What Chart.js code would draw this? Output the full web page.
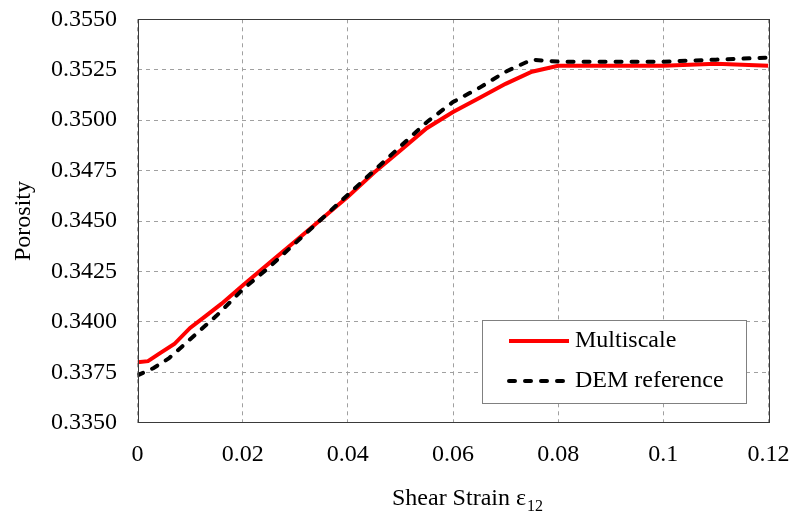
<!DOCTYPE html>
<html>
<head>
<meta charset="utf-8">
<script src="https://cdn.jsdelivr.net/npm/chart.js@4/dist/chart.umd.min.js"></script>
<style>
  html, body { margin: 0; padding: 0; background: #fff; }
  #wrap { width: 793px; height: 517px; }
</style>
</head>
<body>
<div id="wrap"><canvas id="chart" width="793" height="517"></canvas></div>
<script>
// porosity vs shear strain, two runs
const strainMulti   = [0, 0.002, 0.004, 0.007, 0.010, 0.013, 0.016, 0.020, 0.025, 0.030, 0.035, 0.040, 0.045, 0.050, 0.055, 0.060, 0.065, 0.070, 0.075, 0.080, 0.090, 0.100, 0.110, 0.120];
const porosityMulti = [0.3380, 0.33805, 0.3384, 0.3389, 0.3397, 0.3403, 0.3409, 0.3418, 0.3429, 0.3440, 0.3451, 0.3462, 0.3474, 0.3485, 0.3496, 0.3504, 0.3511, 0.3518, 0.3524, 0.3527, 0.3527, 0.3527, 0.3528, 0.3527];

const strainDem   = [0, 0.003, 0.006, 0.009, 0.012, 0.015, 0.020, 0.025, 0.030, 0.035, 0.040, 0.045, 0.050, 0.055, 0.060, 0.065, 0.070, 0.075, 0.080, 0.090, 0.100, 0.110, 0.120];
const porosityDem = [0.33735, 0.3377, 0.3382, 0.3389, 0.3396, 0.3403, 0.3416, 0.3427, 0.3439, 0.3451, 0.3463, 0.3475, 0.3487, 0.3499, 0.3509, 0.3516, 0.3524, 0.3530, 0.3529, 0.3529, 0.3529, 0.3530, 0.3531];

const xTicks = [0, 0.02, 0.04, 0.06, 0.08, 0.1, 0.12];
const yMin = 0.3350, yMax = 0.3550, yStep = 0.0025;

const serif = 'Liberation Serif';
const toPoints = (xs, ys) => xs.map((x, i) => ({ x, y: ys[i] }));

// frame around the plot, inset legend and subscripted x title
const decorations = {
  id: 'decorations',
  afterDatasetsDraw(chart) {
    const { ctx, chartArea: a } = chart;
    ctx.save();
    ctx.strokeStyle = '#3a3a3a';
    ctx.lineWidth = 1;
    ctx.strokeRect(Math.round(a.left) + 0.5, Math.round(a.top) + 0.5,
                   Math.round(a.right - a.left), Math.round(a.bottom - a.top));

    // legend box
    const bx = 482, by = 320, bw = 264, bh = 83;
    ctx.fillStyle = '#fff';
    ctx.fillRect(bx, by, bw, bh);
    ctx.strokeStyle = '#808080';
    ctx.strokeRect(bx + 0.5, by + 0.5, bw, bh);
    ctx.font = `24px "${serif}"`;
    ctx.textBaseline = 'middle';
    ctx.textAlign = 'left';
    chart.data.datasets.forEach((ds, i) => {
      const y = by + 21 + i * 40;
      ctx.beginPath();
      ctx.strokeStyle = ds.borderColor;
      ctx.lineWidth = ds.borderWidth;
      ctx.lineCap = ds.borderCapStyle || 'butt';
      ctx.setLineDash(ds.borderDash || []);
      ctx.moveTo(bx + 27, y);
      ctx.lineTo(bx + 87, y);
      ctx.stroke();
      ctx.setLineDash([]);
      ctx.fillStyle = '#000';
      ctx.fillText(ds.label, bx + 93, y);
    });

    // x axis title with subscript
    const main = 'Shear Strain \u03b5', sub = '12';
    ctx.font = `24px "${serif}"`;
    const wMain = ctx.measureText(main).width;
    ctx.font = `16px "${serif}"`;
    const wSub = ctx.measureText(sub).width;
    const cx = (a.left + a.right) / 2 + 14;
    const x0 = cx - (wMain + wSub) / 2;
    ctx.textBaseline = 'alphabetic';
    ctx.fillStyle = '#000';
    ctx.font = `24px "${serif}"`;
    ctx.fillText(main, x0, 505);
    ctx.font = `16px "${serif}"`;
    ctx.fillText(sub, x0 + wMain + 1, 511);
    ctx.restore();
  }
};

new Chart(document.getElementById('chart').getContext('2d'), {
  type: 'scatter',
  data: {
    datasets: [
      {
        label: 'Multiscale',
        data: toPoints(strainMulti, porosityMulti),
        showLine: true,
        borderColor: '#ff0000',
        borderWidth: 4,
        pointRadius: 0,
        tension: 0,
        order: 1
      },
      {
        label: 'DEM reference',
        data: toPoints(strainDem, porosityDem),
        showLine: true,
        borderColor: '#000000',
        borderWidth: 4,
        borderDash: [6, 10],
        borderCapStyle: 'round',
        pointRadius: 0,
        tension: 0,
        order: 0
      }
    ]
  },
  options: {
    responsive: false,
    animation: false,
    layout: { padding: { left: 0, right: 24.5, top: 19.3, bottom: 0 } },
    plugins: { legend: { display: false }, tooltip: { enabled: false } },
    scales: {
      x: {
        type: 'linear',
        min: 0,
        max: 0.12,
        // fixed height, no extra room for the end labels
        afterFit: s => { s.height = 94.3; s.paddingLeft = 0; s.paddingRight = 0; },
        afterBuildTicks: s => { s.ticks = xTicks.map(v => ({ value: v })); },
        ticks: {
          autoSkip: false,
          maxRotation: 0,
          padding: 18,
          color: '#000',
          font: { family: serif, size: 24 },
          callback: v => String(Number(v.toFixed(2)))
        },
        grid: { color: '#a0a0a0', lineWidth: 1, drawTicks: false },
        border: { display: false, dash: [4, 4] }
      },
      y: {
        min: yMin,
        max: yMax,
        afterFit: s => { s.width = 137.5; s.paddingTop = 0; s.paddingBottom = 0; },
        ticks: {
          stepSize: yStep,
          autoSkip: false,
          padding: 20.5,
          color: '#000',
          font: { family: serif, size: 24 },
          callback: v => v.toFixed(4)
        },
        grid: { color: '#a0a0a0', lineWidth: 1, drawTicks: false },
        border: { display: false, dash: [4, 4] },
        title: {
          display: true,
          text: 'Porosity',
          color: '#000',
          font: { family: serif, size: 24 },
          padding: { top: 9, bottom: 0 }
        }
      }
    }
  },
  plugins: [decorations]
});
</script>
</body>
</html>
